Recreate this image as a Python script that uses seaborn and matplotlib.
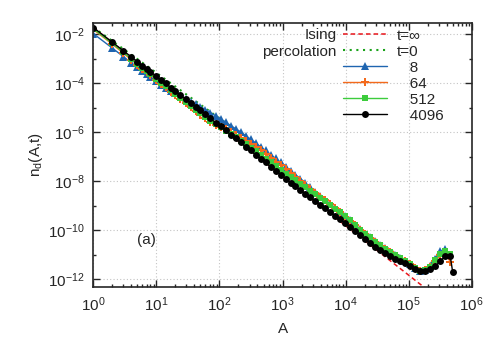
import numpy as np
import pandas as pd
import matplotlib
matplotlib.use('Agg')
import matplotlib.pyplot as plt
from matplotlib.ticker import FixedLocator, LogLocator, NullFormatter, LogFormatterMathtext
import seaborn as sns

# domain areas (log bins), shared by the time series
area = [1, 2, 3, 4, 5, 6, 7, 8, 10, 12, 14, 17, 20, 24, 29, 35, 42, 50, 60, 72,
        87, 104, 125, 150, 180, 216, 259, 311, 373, 448, 537, 645, 774, 929, 1115,
        1338, 1605, 1926, 2311, 2773, 3328, 3994, 4792, 5751, 6901, 8281, 9938,
        11925, 14310, 17172, 20607, 24728, 29674, 35609, 42730, 51276, 61531,
        73838, 88605, 106326, 127591, 153109, 183731, 220477, 264573, 317487,
        380984, 457181, 500000]

# log10 n_d(A,t)
log_n_8 = [-1.97, -2.56, -2.91, -3.16, -3.35, -3.50, -3.63, -3.74, -3.91, -4.06,
           -4.17, -4.30, -4.41, -4.53, -4.65, -4.76, -4.86, -4.95, -5.07, -5.20,
           -5.32, -5.45, -5.58, -5.72, -5.85, -5.98, -6.13, -6.28, -6.43, -6.59,
           -6.74, -6.91, -7.06, -7.23, -7.40, -7.57, -7.73, -7.89, -8.07, -8.25,
           -8.42, -8.60, -8.76, -8.92, -9.09, -9.25, -9.42, -9.58, -9.77, -9.96,
           -10.13, -10.28, -10.45, -10.61, -10.74, -10.88, -11.01, -11.13, -11.25, -11.37,
           -11.52, -11.65, -11.60, -11.45, -11.15, -10.85, -10.78]
log_n_64 = [-1.80, -2.40, -2.77, -3.04, -3.24, -3.40, -3.54, -3.66, -3.86, -4.03,
            -4.16, -4.34, -4.48, -4.64, -4.81, -4.97, -5.13, -5.28, -5.42, -5.56,
            -5.68, -5.78, -5.88, -5.99, -6.10, -6.21, -6.34, -6.46, -6.60, -6.74,
            -6.88, -7.04, -7.19, -7.35, -7.51, -7.67, -7.82, -7.98, -8.14, -8.30,
            -8.46, -8.62, -8.78, -8.94, -9.10, -9.27, -9.44, -9.60, -9.79, -9.98,
            -10.15, -10.30, -10.47, -10.63, -10.76, -10.90, -11.03, -11.15, -11.27, -11.39,
            -11.53, -11.66, -11.62, -11.50, -11.25, -11.00, -10.95, -11.28]
log_n_512 = [-1.77, -2.37, -2.73, -3.00, -3.19, -3.36, -3.49, -3.61, -3.81, -3.97,
             -4.11, -4.28, -4.42, -4.59, -4.75, -4.91, -5.07, -5.22, -5.37, -5.52,
             -5.67, -5.80, -5.93, -6.07, -6.20, -6.34, -6.49, -6.63, -6.78, -6.92,
             -7.07, -7.22, -7.37, -7.53, -7.68, -7.82, -7.96, -8.10, -8.24, -8.38,
             -8.53, -8.67, -8.82, -8.97, -9.12, -9.27, -9.43, -9.59, -9.78, -9.97,
             -10.14, -10.29, -10.46, -10.61, -10.75, -10.89, -11.02, -11.14, -11.26, -11.38,
             -11.52, -11.65, -11.62, -11.48, -11.20, -10.95, -10.85, -10.95]
log_n_4096 = [-1.72, -2.32, -2.67, -2.92, -3.11, -3.27, -3.40, -3.52, -3.71, -3.87,
              -4.00, -4.17, -4.31, -4.47, -4.63, -4.79, -4.95, -5.10, -5.26, -5.43,
              -5.60, -5.76, -5.92, -6.09, -6.25, -6.41, -6.58, -6.74, -6.91, -7.07,
              -7.23, -7.40, -7.56, -7.73, -7.89, -8.05, -8.20, -8.35, -8.50, -8.65,
              -8.80, -8.95, -9.10, -9.25, -9.40, -9.55, -9.70, -9.85, -10.03, -10.21,
              -10.37, -10.51, -10.66, -10.80, -10.92, -11.04, -11.16, -11.26, -11.35, -11.44,
              -11.56, -11.67, -11.67, -11.57, -11.46, -11.26, -11.04, -11.06, -11.72]

# percolation, t=0
area_perc = [1, 2, 4, 10, 20, 40, 80, 160, 320, 640, 1280, 2560, 5120, 10240,
             20480, 40960, 81920, 128800, 163700, 204200, 245500, 302000, 363000, 398000]
log_n_perc = [-1.71, -2.27, -2.83, -3.57, -4.13, -4.69, -5.25, -5.82, -6.41, -7.01,
              -7.62, -8.23, -8.85, -9.45, -10.05, -10.63, -11.15, -11.45, -11.60, -11.50,
              -11.21, -10.95, -10.85, -10.90]

# Ising, t=inf
area_inf = [1, 1e6]
log_n_inf = [-1.73, -13.85]

sns.set_style('ticks')
plt.rcParams['font.family'] = ['Liberation Sans', 'DejaVu Sans']
plt.rcParams['mathtext.fontset'] = 'custom'
plt.rcParams['mathtext.rm'] = 'Liberation Sans'
plt.rcParams['mathtext.it'] = 'Liberation Sans:italic'
plt.rcParams['font.size'] = 11

fig = plt.figure(figsize=(4.9, 3.42), dpi=100)
ax = fig.add_axes([0.1905, 0.1617, 0.7722, 0.7719])

def frame(a, logn):
    return pd.DataFrame({'A': a[:len(logn)], 'n': 10.0 ** np.array(logn)})

sns.lineplot(data=frame(area_perc, log_n_perc), x='A', y='n', ax=ax, sort=False,
             color='#1aa31a', linestyle=(0, (1, 2.2)), linewidth=1.5, label='t=0')
sns.lineplot(data=frame(area_inf, log_n_inf), x='A', y='n', ax=ax, sort=False,
             color='#e8141a', linestyle=(0, (3, 2)), linewidth=1.1, label='t=\u221e')

series = [
    ('   8', log_n_8, '#1f65b0', '^', 6.0),
    ('   64', log_n_64, '#f46a1c', 'P', 5.2),
    ('   512', log_n_512, '#3ccc3c', 's', 4.8),
    ('   4096', log_n_4096, '#000000', 'o', 5.0),
]
for lab, vals, col, mk, ms in series:
    sns.lineplot(data=frame(area, vals), x='A', y='n', ax=ax, sort=False,
                 color=col, marker=mk, markersize=ms, markeredgewidth=0,
                 linewidth=1.0, label=lab)

ax.set_xscale('log')
ax.set_yscale('log')
ax.set_xlim(1, 1e6)
ax.set_ylim(5e-13, 3e-2)

ax.xaxis.set_major_locator(FixedLocator([10.0 ** k for k in range(0, 7)]))
ax.xaxis.set_minor_locator(LogLocator(base=10, subs=np.arange(2, 10), numticks=100))
ax.xaxis.set_major_formatter(LogFormatterMathtext())
ax.xaxis.set_minor_formatter(NullFormatter())
ax.yaxis.set_major_locator(FixedLocator([10.0 ** k for k in range(-12, -1, 2)]))
ax.yaxis.set_minor_locator(FixedLocator([10.0 ** k for k in range(-11, -1, 2)]))
ax.yaxis.set_major_formatter(LogFormatterMathtext())
ax.yaxis.set_minor_formatter(NullFormatter())

ax.tick_params(which='both', direction='in', top=True, right=True, width=1.0)
ax.tick_params(which='major', length=5, pad=6, labelsize=11)
ax.tick_params(which='minor', length=2.5)
for s in ax.spines.values():
    s.set_linewidth(1.2)
ax.grid(which='major', color='#c4c4c4', linestyle=(0, (1, 2)), linewidth=0.8)

ax.set_xlabel('A', fontsize=11, labelpad=6)
ax.set_ylabel(r'n$_{\rm d}$(A,t)', fontsize=11, labelpad=2)
ax.text(0.141, 0.177, '(a)', transform=ax.transAxes, ha='center', va='center', fontsize=11)

handles, labels = ax.get_legend_handles_labels()
order = [labels.index('t=\u221e'), labels.index('t=0')] + \
        [labels.index(s[0]) for s in series]
ax.legend([handles[i] for i in order], [labels[i] for i in order],
          loc='upper left', bbox_to_anchor=(0.66, 0.977), frameon=False,
          handlelength=2.9, handletextpad=0.65, labelspacing=0.13,
          borderpad=0, borderaxespad=0, fontsize=11, numpoints=1)
ax.text(0.643, 0.953, 'Ising', transform=ax.transAxes, ha='right', va='center', fontsize=11)
ax.text(0.643, 0.890, 'percolation', transform=ax.transAxes, ha='right', va='center', fontsize=11)

fig.savefig('out.png', dpi=100)
